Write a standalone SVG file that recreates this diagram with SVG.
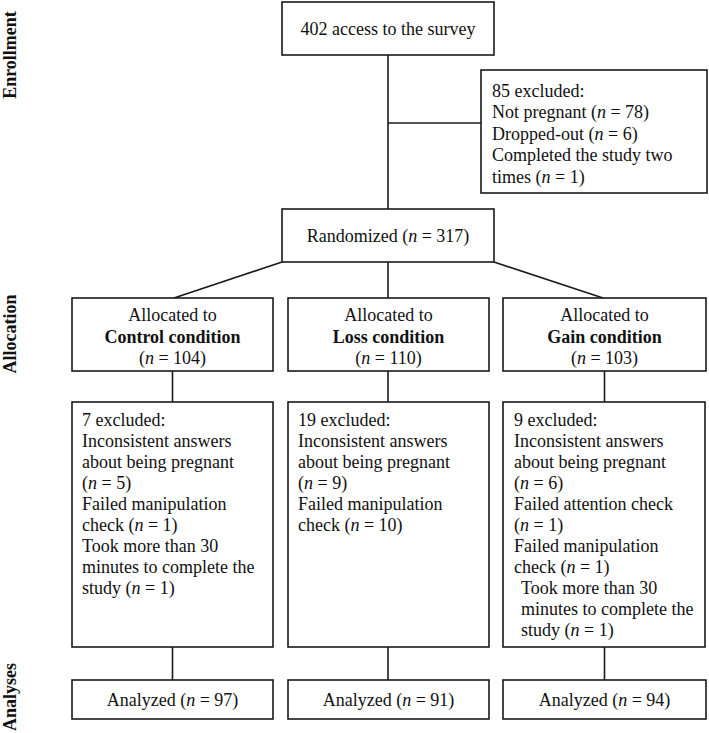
<svg xmlns="http://www.w3.org/2000/svg" width="709" height="733" viewBox="0 0 709 733">
<style>
  .box { fill: #ffffff; stroke: #1a1a1a; stroke-width: 1.6; }
  .ln { stroke: #1a1a1a; stroke-width: 1.6; fill: none; }
  text { font-family: "Liberation Serif", "Times New Roman", serif; font-size: 18px; fill: #111111; }
  .c { text-anchor: middle; }
  .b { font-weight: bold; }
  .i { font-style: italic; }
  .side { font-weight: bold; text-anchor: middle; }
</style>
<rect width="709" height="733" fill="#ffffff"/>

<g id="stage-labels">
  <text class="side" transform="translate(16,55) rotate(-90)">Enrollment</text>
  <text class="side" transform="translate(16,334) rotate(-90)">Allocation</text>
  <text class="side" transform="translate(16,697) rotate(-90)">Analyses</text>
</g>

<g id="connectors">
  <line class="ln" x1="388" y1="55" x2="388" y2="209"/>
  <line class="ln" x1="388" y1="123" x2="481" y2="123"/>
  <line class="ln" x1="282" y1="262" x2="174" y2="298"/>
  <line class="ln" x1="388" y1="262" x2="388" y2="298"/>
  <line class="ln" x1="494" y1="262" x2="603" y2="298"/>
  <line class="ln" x1="172.5" y1="371" x2="172.5" y2="402"/>
  <line class="ln" x1="388" y1="371" x2="388" y2="402"/>
  <line class="ln" x1="604.5" y1="371" x2="604.5" y2="402"/>
  <line class="ln" x1="172.5" y1="647" x2="172.5" y2="680"/>
  <line class="ln" x1="388" y1="647" x2="388" y2="680"/>
  <line class="ln" x1="604.5" y1="647" x2="604.5" y2="680"/>
</g>

<g id="access">
  <rect class="box" x="282" y="2" width="212" height="53"/>
  <text class="c" x="388" y="35">402 access to the survey</text>
</g>

<g id="excluded-enrollment">
  <rect class="box" x="481" y="70" width="226" height="123"/>
  <text x="492" y="96.5">85 excluded:</text>
  <text x="492" y="118">Not pregnant (<tspan class="i">n</tspan> = 78)</text>
  <text x="492" y="139.5">Dropped-out (<tspan class="i">n</tspan> = 6)</text>
  <text x="492" y="161">Completed the study two</text>
  <text x="492" y="182.5">times (<tspan class="i">n</tspan> = 1)</text>
</g>

<g id="randomized">
  <rect class="box" x="282" y="209" width="212" height="53"/>
  <text class="c" x="388" y="242">Randomized (<tspan class="i">n</tspan> = 317)</text>
</g>

<g id="alloc-control">
  <rect class="box" x="72" y="298" width="201" height="73"/>
  <text class="c" x="172.5" y="321">Allocated to</text>
  <text class="c b" x="172.5" y="343">Control condition</text>
  <text class="c" x="172.5" y="364">(<tspan class="i">n</tspan> = 104)</text>
</g>

<g id="alloc-loss">
  <rect class="box" x="288" y="298" width="201" height="73"/>
  <text class="c" x="388.5" y="321">Allocated to</text>
  <text class="c b" x="388.5" y="343">Loss condition</text>
  <text class="c" x="388.5" y="364">(<tspan class="i">n</tspan> = 110)</text>
</g>

<g id="alloc-gain">
  <rect class="box" x="503" y="298" width="203" height="73"/>
  <text class="c" x="604.5" y="321">Allocated to</text>
  <text class="c b" x="604.5" y="343">Gain condition</text>
  <text class="c" x="604.5" y="364">(<tspan class="i">n</tspan> = 103)</text>
</g>

<g id="excluded-control">
  <rect class="box" x="72" y="402" width="201" height="245"/>
  <text x="82" y="426">7 excluded:</text>
  <text x="82" y="447">Inconsistent answers</text>
  <text x="82" y="468">about being pregnant</text>
  <text x="82" y="489">(<tspan class="i">n</tspan> = 5)</text>
  <text x="82" y="510">Failed manipulation</text>
  <text x="82" y="531">check (<tspan class="i">n</tspan> = 1)</text>
  <text x="82" y="552">Took more than 30</text>
  <text x="82" y="573">minutes to complete the</text>
  <text x="82" y="594">study (<tspan class="i">n</tspan> = 1)</text>
</g>

<g id="excluded-loss">
  <rect class="box" x="288" y="402" width="201" height="245"/>
  <text x="298" y="426">19 excluded:</text>
  <text x="298" y="447">Inconsistent answers</text>
  <text x="298" y="468">about being pregnant</text>
  <text x="298" y="489">(<tspan class="i">n</tspan> = 9)</text>
  <text x="298" y="510">Failed manipulation</text>
  <text x="298" y="531">check (<tspan class="i">n</tspan> = 10)</text>
</g>

<g id="excluded-gain">
  <rect class="box" x="503" y="402" width="202" height="245"/>
  <text x="514" y="426">9 excluded:</text>
  <text x="514" y="447">Inconsistent answers</text>
  <text x="514" y="468">about being pregnant</text>
  <text x="514" y="489">(<tspan class="i">n</tspan> = 6)</text>
  <text x="514" y="510">Failed attention check</text>
  <text x="514" y="531">(<tspan class="i">n</tspan> = 1)</text>
  <text x="514" y="552">Failed manipulation</text>
  <text x="514" y="573">check (<tspan class="i">n</tspan> = 1)</text>
  <text x="521" y="594">Took more than 30</text>
  <text x="521" y="615">minutes to complete the</text>
  <text x="521" y="636">study (<tspan class="i">n</tspan> = 1)</text>
</g>

<g id="analyzed-control">
  <rect class="box" x="72" y="680" width="201" height="39"/>
  <text class="c" x="172.5" y="706">Analyzed (<tspan class="i">n</tspan> = 97)</text>
</g>

<g id="analyzed-loss">
  <rect class="box" x="288" y="680" width="201" height="39"/>
  <text class="c" x="388.5" y="706">Analyzed (<tspan class="i">n</tspan> = 91)</text>
</g>

<g id="analyzed-gain">
  <rect class="box" x="503" y="680" width="203" height="39"/>
  <text class="c" x="604.5" y="706">Analyzed (<tspan class="i">n</tspan> = 94)</text>
</g>
</svg>
